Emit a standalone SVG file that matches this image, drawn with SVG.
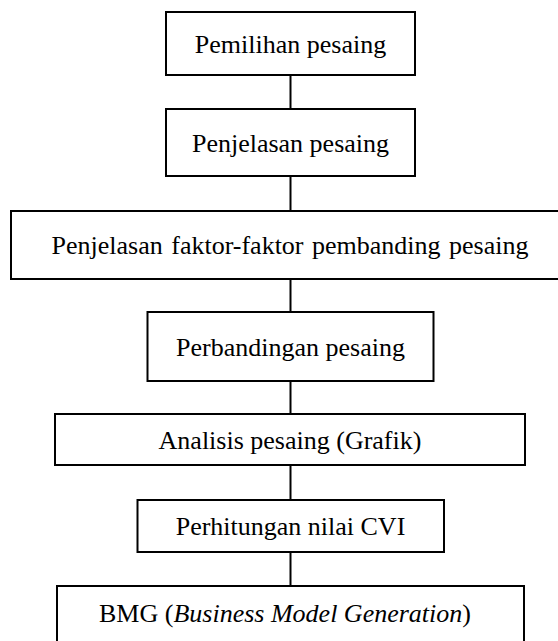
<svg xmlns="http://www.w3.org/2000/svg" width="558" height="641" viewBox="0 0 558 641">
<style>
.box{fill:#fff;stroke:#000;stroke-width:2}
.lbl{font-family:"Liberation Serif","Times New Roman",serif;font-size:26px;fill:#000;text-anchor:middle}
.con{stroke:#000;stroke-width:2;fill:none}
</style>
<rect width="558" height="641" fill="#fff"/>
<g id="connectors">
<line class="con" x1="290.5" y1="75" x2="290.5" y2="109"/>
<line class="con" x1="290.5" y1="176" x2="290.5" y2="211"/>
<line class="con" x1="290.5" y1="279" x2="290.5" y2="312"/>
<line class="con" x1="290.5" y1="381" x2="290.5" y2="414"/>
<line class="con" x1="290.5" y1="465" x2="290.5" y2="500"/>
<line class="con" x1="290.5" y1="552" x2="290.5" y2="586"/>
</g>
<g id="n1"><rect class="box" x="166" y="12" width="249" height="63"/><text class="lbl" x="290.5" y="52.5">Pemilihan pesaing</text></g>
<g id="n2"><rect class="box" x="166" y="109" width="249" height="67"/><text class="lbl" x="290.5" y="151.5">Penjelasan pesaing</text></g>
<g id="n3"><rect class="box" x="11" y="211" width="560" height="68"/><text class="lbl" x="290" y="253.5" word-spacing="2">Penjelasan faktor-faktor pembanding pesaing</text></g>
<g id="n4"><rect class="box" x="147.5" y="312" width="286" height="69"/><text class="lbl" x="290.5" y="355.5">Perbandingan pesaing</text></g>
<g id="n5"><rect class="box" x="55" y="414" width="470" height="51"/><text class="lbl" x="290" y="448.5">Analisis pesaing (Grafik)</text></g>
<g id="n6"><rect class="box" x="137.5" y="500" width="306.5" height="52"/><text class="lbl" x="290.5" y="534.5">Perhitungan nilai CVI</text></g>
<g id="n7"><rect class="box" x="57" y="586" width="467" height="60"/><text class="lbl" x="285" y="622">BMG (<tspan font-style="italic">Business Model Generation</tspan>)</text></g>
</svg>
